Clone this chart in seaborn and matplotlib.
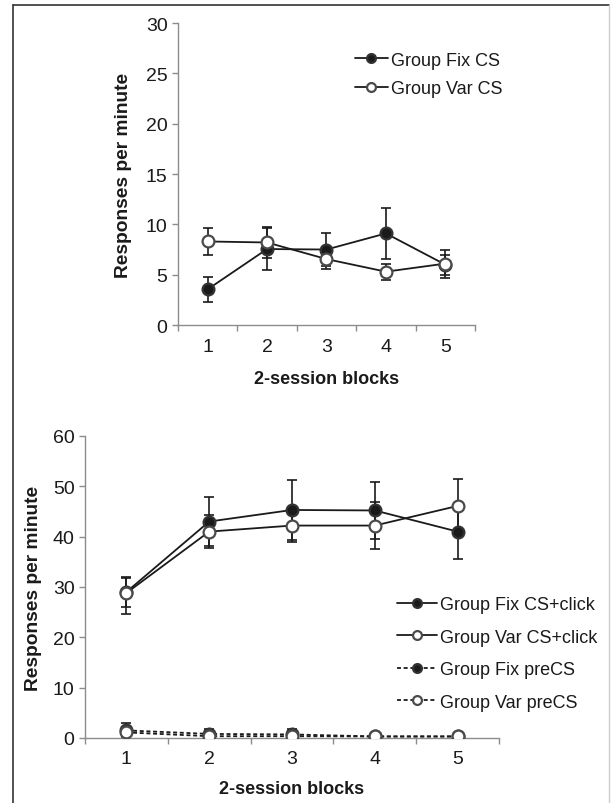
import sys

import numpy as np
import pandas as pd
import matplotlib
matplotlib.use("Agg")
import matplotlib.pyplot as plt
import seaborn as sns

#****************************************************************************
# data
#****************************************************************************

blockL = [1, 2, 3, 4, 5]

# top panel: CS responding
fix_cs = [3.55, 7.55, 7.5, 9.1, 6.0]
fix_cs_err = [1.25, 2.05, 1.6, 2.5, 1.0]
var_cs = [8.3, 8.2, 6.55, 5.3, 6.1]
var_cs_err = [1.35, 1.5, 1.0, 0.8, 1.4]

# bottom panel: CS+click and preCS responding
fix_click = [29.0, 43.0, 45.3, 45.2, 41.0]
fix_click_err = [2.9, 4.85, 5.9, 5.6, 5.4]
var_click = [28.8, 41.0, 42.2, 42.2, 46.1]
var_click_err_lo = [4.2, 3.3, 3.3, 4.6, 5.4]
var_click_err_hi = [2.9, 3.3, 3.3, 4.6, 5.4]
fix_pre = [1.5, 0.8, 0.7, 0.3, 0.3]
fix_pre_err = [1.5, 1.0, 1.0, 0.2, 0.2]
var_pre = [1.1, 0.35, 0.35, 0.3, 0.3]
var_pre_err = [0.8, 0.3, 0.3, 0.2, 0.2]

ylabel = 'Responses per minute'
xlabel = '2-session blocks'

INK = '#1a1a1a'
SPINE = '#8c8c8c'
FONT = ['Liberation Sans', 'DejaVu Sans']

#****************************************************************************

def series(axes, y, err, label, filled, dashed=False):
    dfrm = pd.DataFrame({'block': blockL, 'value': y})
    axes.errorbar(blockL, y, yerr=err, fmt='none', ecolor=INK,
                  elinewidth=1.2, capsize=3.5, capthick=1.2, zorder=2)
    sns.lineplot(data=dfrm, x='block', y='value', ax=axes, color=INK,
                 linewidth=1.3,
                 linestyle=((0, (2.2, 1.5)) if dashed else '-'),
                 marker='o', markersize=8.5,
                 markerfacecolor=(INK if filled else 'white'),
                 markeredgecolor=('#333333' if filled else '#4a4a4a'),
                 markeredgewidth=1.6, label=label, zorder=3)


def style_axes(axes, ymax, ystep, ylab_x, xlab_y):
    axes.set_xlim(0.5, 5.5)
    axes.set_ylim(0, ymax)
    axes.set_yticks(np.arange(0, ymax + 1, ystep))
    axes.set_xticks([0.5, 1.5, 2.5, 3.5, 4.5, 5.5])
    axes.set_xticklabels([])
    axes.set_xticks(blockL, minor=True)
    axes.set_xticklabels([str(b) for b in blockL], minor=True)

    for side in ['top', 'right']:
        axes.spines[side].set_visible(False)
    for side in ['left', 'bottom']:
        axes.spines[side].set_color(SPINE)
        axes.spines[side].set_linewidth(1.0)

    axes.tick_params(axis='y', which='major', length=4.5, width=1.0,
                     color=SPINE, labelsize=14, labelcolor=INK, pad=3,
                     left=True)
    axes.tick_params(axis='x', which='major', length=4.5, width=1.0,
                     color=SPINE, bottom=True, direction='out')
    axes.tick_params(axis='x', which='minor', length=0, labelsize=14,
                     labelcolor=INK, pad=9)

    axes.set_ylabel(ylabel, fontsize=13.8, fontweight='bold', color=INK)
    axes.set_xlabel(xlabel, fontsize=13, fontweight='bold', color=INK)
    axes.yaxis.set_label_coords(ylab_x, 0.5)
    axes.xaxis.set_label_coords(0.5, xlab_y)
    axes.grid(False)


def main():
    sns.set_theme(style='white')
    plt.rcParams['font.family'] = FONT

    fig = plt.figure(figsize=(6.11, 8.04), dpi=100)

    # frame round the figure
    fig.add_artist(plt.Line2D([0.022, 0.022], [0.0, 0.9925], color='#333333',
                              linewidth=1.2, transform=fig.transFigure))
    fig.add_artist(plt.Line2D([0.022, 0.997], [0.9925, 0.9925], color='#333333',
                              linewidth=1.2, transform=fig.transFigure))
    fig.add_artist(plt.Line2D([0.997, 0.997], [0.0, 0.9925], color='#cccccc',
                              linewidth=1.0, transform=fig.transFigure))

    #-------------------------------------------------------
    # top panel
    #-------------------------------------------------------
    ax1 = fig.add_axes([0.2913, 0.5945, 0.4861, 0.3756])
    series(ax1, fix_cs, fix_cs_err, 'Group Fix CS', filled=True)
    series(ax1, var_cs, var_cs_err, 'Group Var CS', filled=False)
    style_axes(ax1, 30, 5, -0.155, -0.15)
    ax1.legend(loc='upper left', bbox_to_anchor=(0.596, 0.905), frameon=False,
               fontsize=13, handlelength=1.8, handletextpad=0.2,
               borderpad=0, borderaxespad=0, labelspacing=0.62,
               markerscale=0.75, labelcolor=INK)

    #-------------------------------------------------------
    # bottom panel
    #-------------------------------------------------------
    ax2 = fig.add_axes([0.1391, 0.0809, 0.6776, 0.3756])
    series(ax2, fix_click, fix_click_err, 'Group Fix CS+click', filled=True)
    series(ax2, var_click, [var_click_err_lo, var_click_err_hi],
           'Group Var CS+click', filled=False)
    series(ax2, fix_pre, fix_pre_err, 'Group Fix preCS', filled=True, dashed=True)
    series(ax2, var_pre, var_pre_err, 'Group Var preCS', filled=False, dashed=True)
    style_axes(ax2, 60, 10, -0.103, -0.138)
    ax2.legend(loc='upper left', bbox_to_anchor=(0.754, 0.47), frameon=False,
               fontsize=13, handlelength=2.2, handletextpad=0.2,
               borderpad=0, borderaxespad=0, labelspacing=0.86,
               markerscale=0.75, labelcolor=INK)

    fig.savefig('out.png', dpi=100, facecolor='white')


#****************************************************************************

if (__name__ == "__main__"):
    sys.exit(main())
